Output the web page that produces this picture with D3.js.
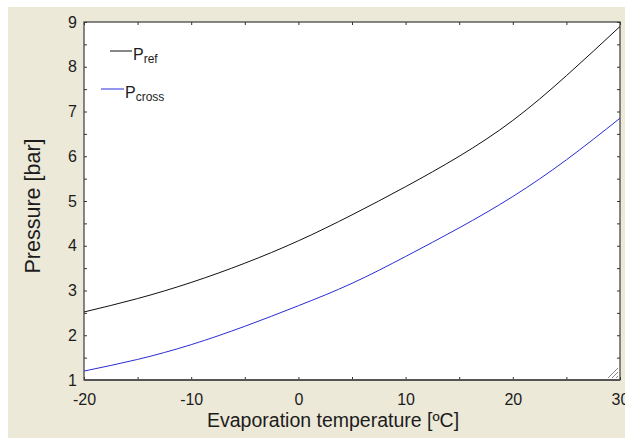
<!DOCTYPE html>
<html>
<head>
<meta charset="utf-8">
<script src="https://cdn.jsdelivr.net/npm/d3@7"></script>
<style>
  body { margin: 0; background: #fff; }
  svg { display: block; font-family: Arial, "Liberation Sans", sans-serif; }
  .tick text { fill: #1c1c1c; font-size: 16px; }
  .tick line { stroke: #333; }
</style>
</head>
<body>
<svg></svg>
<script>
// evaporation temperature, degC
const temps = [-20, -15, -10, -5, 0, 5, 10, 15, 20, 25, 30];
// pressures, bar
const pRef = [2.52, 2.82, 3.18, 3.61, 4.11, 4.69, 5.32, 6.0, 6.8, 7.8, 8.9];
const pCross = [1.2, 1.46, 1.79, 2.2, 2.66, 3.16, 3.76, 4.4, 5.1, 5.92, 6.85];

const xTicks = d3.range(-20, 31, 5);
const yTicks = d3.range(1, 9.01, 0.5);

const width = 625, height = 438;
const margin = { top: 22, right: 5, bottom: 58, left: 84 };
const w = width - margin.left - margin.right;
const h = height - margin.top - margin.bottom;

const svg = d3.select('svg')
  .attr('width', width)
  .attr('height', height);

// beige window panel
svg.append('rect')
  .attr('x', 8).attr('y', 7)
  .attr('width', width - 8).attr('height', height - 7)
  .attr('fill', '#ece9d8');

const chart = svg.append('g')
  .attr('transform', `translate(${margin.left}, ${margin.top})`);

chart.append('rect')
  .attr('width', w).attr('height', h)
  .attr('fill', '#fff');

const xScale = d3.scaleLinear().domain([-20, 30]).range([0, w]);
const yScale = d3.scaleLinear().domain([1, 9]).range([h, 0]);

const xLabel = d => d % 10 === 0 ? d : '';
const yLabel = d => Number.isInteger(d) ? d : '';

// axes, ticks point inwards
chart.append('g')
  .attr('transform', `translate(0, ${h})`)
  .call(d3.axisBottom(xScale).tickValues(xTicks).tickFormat(xLabel)
    .tickSizeInner(-3).tickSizeOuter(0).tickPadding(14))
  .call(g => g.select('.domain').remove());

chart.append('g')
  .call(d3.axisLeft(yScale).tickValues(yTicks).tickFormat(yLabel)
    .tickSizeInner(-3).tickSizeOuter(0).tickPadding(7))
  .call(g => g.select('.domain').remove());

chart.append('g')
  .call(d3.axisTop(xScale).tickValues(xTicks).tickFormat('')
    .tickSizeInner(-3).tickSizeOuter(0))
  .call(g => g.select('.domain').remove());

chart.append('g')
  .attr('transform', `translate(${w}, 0)`)
  .call(d3.axisRight(yScale).tickValues(yTicks).tickFormat('')
    .tickSizeInner(-3).tickSizeOuter(0))
  .call(g => g.select('.domain').remove());

chart.selectAll('.tick text').attr('font-family', null).attr('font-size', null);

// frame
chart.append('rect')
  .attr('width', w).attr('height', h)
  .attr('fill', 'none')
  .attr('stroke', '#3a3a3a')
  .attr('stroke-width', 1.2);
chart.append('line')
  .attr('x1', 0).attr('x2', w).attr('y1', h).attr('y2', h)
  .attr('stroke', '#555').attr('stroke-width', 2);

// curves
const line = d3.line()
  .x((d, i) => xScale(temps[i]))
  .y(d => yScale(d))
  .curve(d3.curveNatural);

chart.append('path')
  .datum(pRef)
  .attr('d', line)
  .attr('fill', 'none')
  .attr('stroke', '#111')
  .attr('stroke-width', 1);

chart.append('path')
  .datum(pCross)
  .attr('d', line)
  .attr('fill', 'none')
  .attr('stroke', '#2b2bd6')
  .attr('stroke-width', 1);

// resize grip in the corner
const grip = chart.append('g').attr('stroke', '#888').attr('stroke-width', 1);
[4, 8, 12].forEach(k => {
  grip.append('line')
    .attr('x1', w - 2).attr('y1', h - k)
    .attr('x2', w - k).attr('y2', h - 2);
});

// legend
const legend = [
  { name: 'P', sub: 'ref', color: '#111', x1: 110, x2: 132, y: 51 },
  { name: 'P', sub: 'cross', color: '#2b2bd6', x1: 101, x2: 124, y: 89 }
];
legend.forEach(l => {
  svg.append('line')
    .attr('x1', l.x1).attr('x2', l.x2)
    .attr('y1', l.y).attr('y2', l.y)
    .attr('stroke', l.color);
  const t = svg.append('text')
    .attr('x', l.x2 + 1).attr('y', l.y + 8.5)
    .attr('fill', '#1c1c1c')
    .style('font-size', '16px');
  t.append('tspan').text(l.name);
  t.append('tspan').attr('dy', 3.5).style('font-size', '12px').text(l.sub);
});

// axis titles
svg.append('text')
  .attr('x', 207).attr('y', 427)
  .attr('fill', '#1c1c1c')
  .style('font-size', '19.5px')
  .text('Evaporation temperature [ºC]');

svg.append('text')
  .attr('transform', 'translate(40, 206) rotate(-90)')
  .attr('text-anchor', 'middle')
  .attr('fill', '#1c1c1c')
  .style('font-size', '21.5px')
  .text('Pressure [bar]');
</script>
</body>
</html>
